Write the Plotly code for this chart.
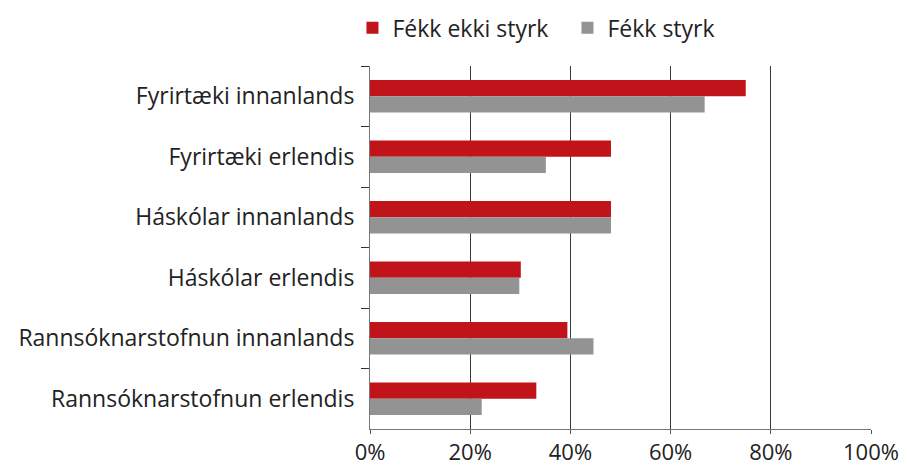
"""Grant outcome by collaboration partner type."""

import plotly.graph_objects as go

CATEGORIES = [
    "Fyrirtæki innanlands",
    "Fyrirtæki erlendis",
    "Háskólar innanlands",
    "Háskólar erlendis",
    "Rannsóknarstofnun innanlands",
    "Rannsóknarstofnun erlendis",
]
NO_GRANT = [75.0, 48.1, 48.1, 30.1, 39.4, 33.2]
GRANT = [66.8, 35.1, 48.1, 29.8, 44.6, 22.3]
TICK_VALS = [0, 20, 40, 60, 80, 100]
TICK_TEXT = ["0%", "20%", "40%", "60%", "80%", "100%"]

FONT = "Open Sans, Liberation Sans, Arial, sans-serif"

fig = go.Figure()
fig.add_trace(
    go.Bar(
        y=CATEGORIES,
        x=NO_GRANT,
        name="Fékk ekki styrk",
        orientation="h",
        marker=dict(color="#C1141A", line_width=0),
    )
)
fig.add_trace(
    go.Bar(
        y=CATEGORIES,
        x=GRANT,
        name="Fékk styrk",
        orientation="h",
        marker=dict(color="#939393", line_width=0),
    )
)

# page body adds an 8px margin, so the figure is 8px smaller each way
fig.update_layout(
    width=900,
    height=458,
    barmode="group",
    bargap=0.46,
    bargroupgap=0,
    plot_bgcolor="white",
    paper_bgcolor="white",
    font=dict(family=FONT, size=23, color="#222222"),
    margin=dict(l=362, r=37, t=58, b=37, autoexpand=False),
    legend=dict(
        orientation="h",
        x=-0.035,
        xanchor="left",
        y=1.105,
        yanchor="middle",
        font=dict(size=23),
        traceorder="normal",
        itemwidth=30,
        entrywidth=170,
    ),
    xaxis=dict(
        range=[0, 100],
        tickvals=TICK_VALS,
        ticktext=TICK_TEXT,
        tickfont=dict(size=22),
        showgrid=True,
        gridcolor="#3a3a3a",
        gridwidth=1,
        showline=True,
        linecolor="#777777",
        ticks="outside",
        ticklen=4,
        tickcolor="#555555",
        zeroline=False,
        fixedrange=True,
    ),
    yaxis=dict(
        autorange="reversed",
        showline=True,
        linecolor="#777777",
        ticks="outside",
        tickson="boundaries",
        ticklen=8,
        tickcolor="#333333",
        ticklabelstandoff=10,
        showgrid=False,
    ),
)

fig.write_html("out.html")
